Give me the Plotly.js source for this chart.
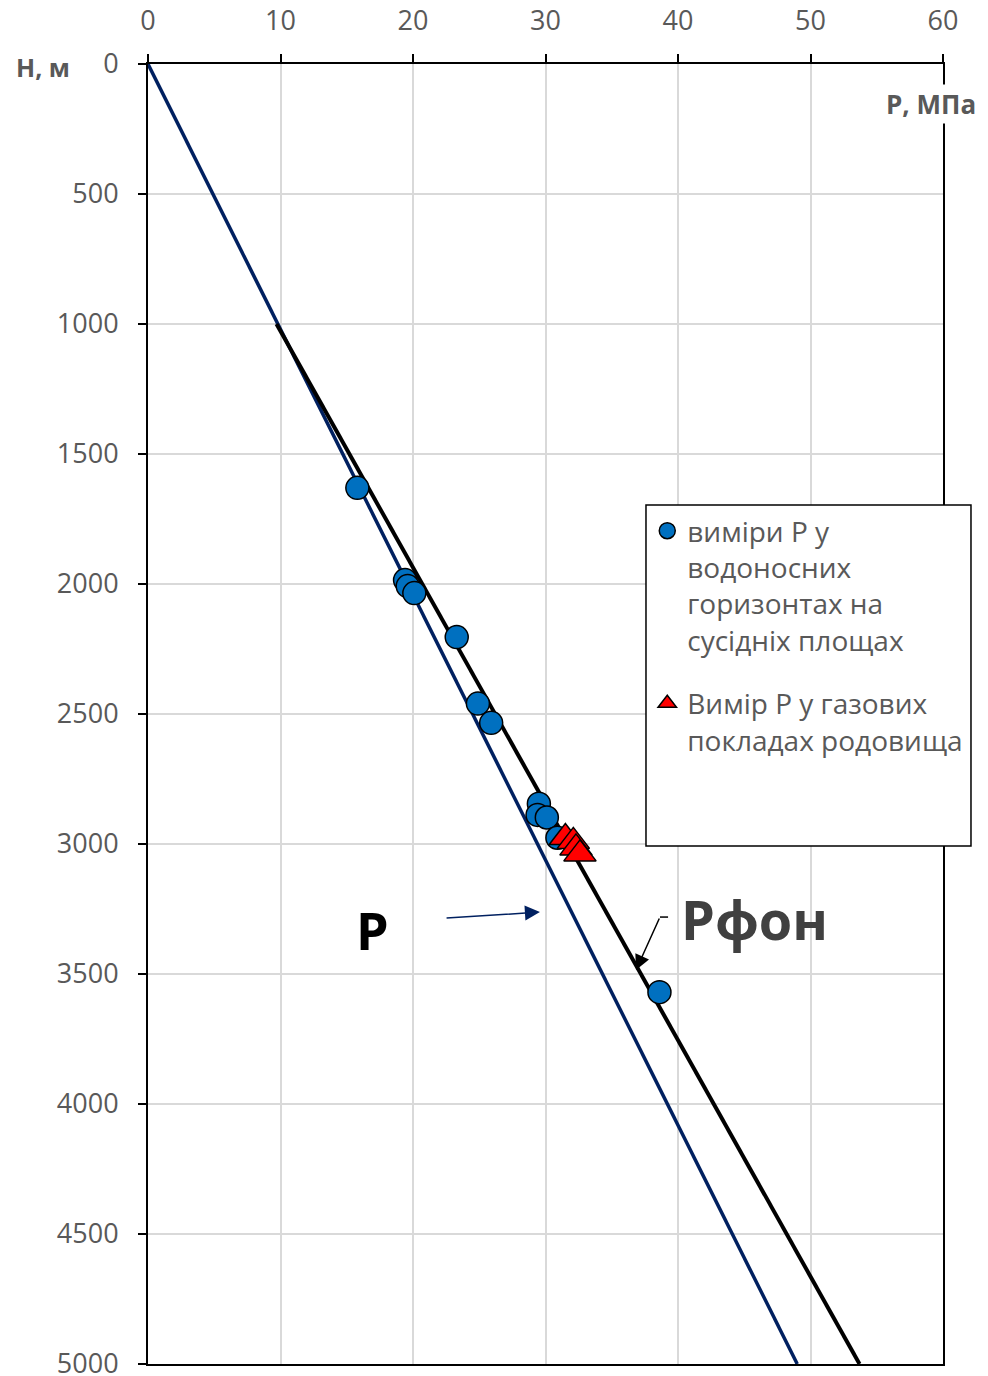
<!DOCTYPE html>
<html>
<head>
<meta charset="utf-8">
<script src="https://cdn.plot.ly/plotly-3.0.1.min.js"></script>
<style>body{margin:0;padding:0;background:#fff}#chart{width:988px;height:1376px}</style>
</head>
<body>
<div id="chart"></div>
<script>
// Water-bearing horizons measurements (P, MPa ; H, m)
const waterP = [15.8, 19.4, 19.6, 20.1, 23.3, 24.9, 25.9, 29.5, 29.4, 30.1, 30.9, 38.6];
const waterH = [1630, 1985, 2008, 2035, 2204, 2460, 2534, 2845, 2888, 2898, 2976, 3570];
// Gas deposit measurements
const gasP = [31.5, 32.1, 32.3, 32.6];
const gasH = [2975, 2990, 3015, 3038];
// Hydrostatic pressure line P
const lineP_P = [0, 49.0];
const lineP_H = [0, 5000];
// Background pressure line Рфон
const lineF_P = [9.7, 53.7];
const lineF_H = [1000, 5000];

const xTicks = [0, 10, 20, 30, 40, 50, 60];
const yTicks = [0, 500, 1000, 1500, 2000, 2500, 3000, 3500, 4000, 4500, 5000];

const nameWater = 'виміри Р у<br>водоносних<br>горизонтах на<br>сусідніх площах';
const nameGas = 'Вимір Р у газових<br>покладах родовища';

const FONT = '"Open Sans", "Noto Sans", sans-serif';
const GRAY = '#595959';

const traces = [
  {x: lineP_P, y: lineP_H, mode: 'lines', line: {color: '#002060', width: 3.5}, showlegend: false, hoverinfo: 'skip'},
  {x: lineF_P, y: lineF_H, mode: 'lines', line: {color: '#000000', width: 4}, showlegend: false, hoverinfo: 'skip'},
  {x: waterP, y: waterH, mode: 'markers', name: nameWater, legendgroup: 'a',
   marker: {symbol: 'circle', size: 23, color: '#0070C0', line: {color: '#000', width: 1.5}}},
  {x: gasP, y: gasH, mode: 'markers', name: nameGas, legendgroup: 'b',
   marker: {symbol: 'triangle-up', size: 28, color: '#FF0000', line: {color: '#000', width: 1.5}}}
];

const layout = {
  width: 988, height: 1376,
  margin: {l: 148, r: 45, t: 64, b: 12},
  paper_bgcolor: '#fff', plot_bgcolor: '#fff',
  font: {family: FONT, color: GRAY},
  showlegend: true,
  legend: {
    x: 0.628, y: 0.66, xanchor: 'left', yanchor: 'top', valign: 'top',
    bgcolor: 'rgba(0,0,0,0)', borderwidth: 0,
    font: {family: FONT, size: 28, color: GRAY},
    tracegroupgap: 24, itemsizing: 'trace'
  },
  xaxis: {
    side: 'top', range: [0, 60], tickvals: xTicks, ticktext: xTicks.map(String),
    showgrid: true, gridcolor: '#d9d9d9', gridwidth: 2,
    zeroline: false, showline: true, linecolor: '#000', linewidth: 2, mirror: true,
    ticks: 'outside', ticklen: 8, tickcolor: '#000', tickwidth: 2,
    tickfont: {family: FONT, size: 27, color: GRAY}, ticklabelstandoff: 13,
    ticklabeloverflow: 'allow'
  },
  yaxis: {
    range: [5000, 0], tickvals: yTicks, ticktext: yTicks.map(String),
    showgrid: true, gridcolor: '#d9d9d9', gridwidth: 2,
    zeroline: false, showline: true, linecolor: '#000', linewidth: 2, mirror: true,
    ticks: 'outside', ticklen: 8, tickcolor: '#000', tickwidth: 2,
    tickfont: {family: FONT, size: 27, color: GRAY}, ticklabelstandoff: 14,
    ticklabeloverflow: 'allow'
  },
  shapes: [
    {type: 'rect', xref: 'paper', yref: 'paper', x0: 0.6264, x1: 1.0352, y0: 0.3985, y1: 0.6608,
     fillcolor: '#fff', line: {color: '#000', width: 1.5}, layer: 'above'},
    {type: 'line', xref: 'x', yref: 'y', x0: 38.64, x1: 39.25, y0: 3281, y1: 3281,
     line: {color: '#000', width: 1.5}, layer: 'above'}
  ],
  annotations: [
    {xref: 'paper', yref: 'paper', x: -0.132, y: 0.9977, xanchor: 'center', yanchor: 'middle',
     text: '<b>Н, м</b>', showarrow: false, font: {family: FONT, size: 25, color: GRAY}},
    {xref: 'paper', yref: 'paper', x: 0.985, y: 0.969, xanchor: 'center', yanchor: 'middle',
     text: '<b>Р, МПа</b>', showarrow: false, bgcolor: '#fff', font: {family: FONT, size: 26, color: GRAY}},
    {xref: 'x', yref: 'y', x: 16.95, y: 3330, xanchor: 'center', yanchor: 'middle',
     text: '<b>P</b>', showarrow: false, font: {family: FONT, size: 52, color: '#000'}},
    {xref: 'x', yref: 'y', x: 29.58, y: 3262, axref: 'x', ayref: 'y', ax: 22.42, ay: 3285,
     text: '', showarrow: true, arrowhead: 2, arrowsize: 2, arrowwidth: 1.5, arrowcolor: '#002060'},
    {xref: 'x', yref: 'y', x: 40.1, y: 3290, xanchor: 'left', yanchor: 'middle',
     text: '<b>Рфон</b>', showarrow: false, font: {family: FONT, size: 54, color: '#404040'}},
    {xref: 'x', yref: 'y', x: 36.83, y: 3485, axref: 'x', ayref: 'y', ax: 38.64, ay: 3281,
     text: '', showarrow: true, arrowhead: 2, arrowsize: 2, arrowwidth: 1.5, arrowcolor: '#000'}
  ]
};

Plotly.newPlot('chart', traces, layout, {staticPlot: true});
</script>
</body>
</html>
